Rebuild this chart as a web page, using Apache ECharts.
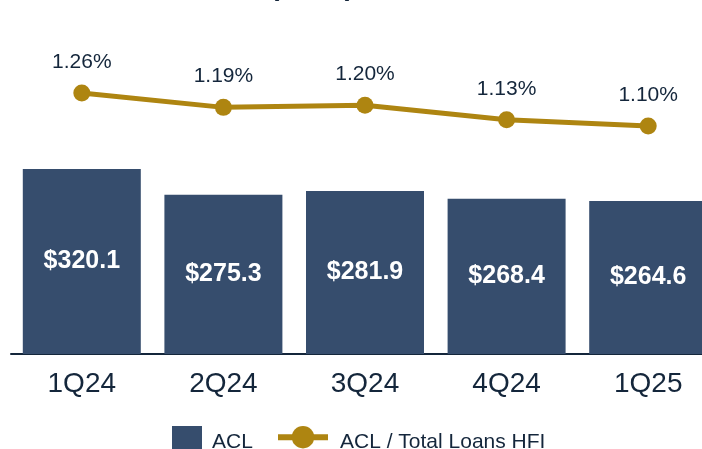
<!DOCTYPE html>
<html>
<head>
<meta charset="utf-8">
<script src="https://cdn.jsdelivr.net/npm/echarts@6/dist/echarts.min.js"></script>
<style>
html,body{margin:0;padding:0;background:#fff;overflow:hidden;width:702px;height:449px;}
#chart{width:719px;height:449px;}
</style>
</head>
<body>
<div id="chart"></div>
<script>
var categories = ['1Q24', '2Q24', '3Q24', '4Q24', '1Q25'];
var aclValues = [320.1, 275.3, 281.9, 268.4, 264.6];
var ratioValues = [1.26, 1.19, 1.20, 1.13, 1.10];
var seriesNames = ['ACL', 'ACL / Total Loans HFI'];
var titleText = '($mm)';

var navy = '#364d6d';
var gold = '#ae8511';
var ink = '#14263b';
var font = 'Arial, "Liberation Sans", sans-serif';

var chart = echarts.init(document.getElementById('chart'), null, {renderer: 'canvas'});
chart.setOption({
  animation: false,
  backgroundColor: '#ffffff',
  graphic: [{
    type: 'text',
    left: 270,
    top: -27,
    style: {text: titleText, font: 'bold 28px ' + font, fill: ink}
  }],
  grid: {left: 11, right: 0, top: 40, bottom: 95, containLabel: false},
  legend: [{
    data: [seriesNames[0]],
    left: 172, top: 426,
    itemWidth: 30, itemHeight: 26,
    icon: 'rect',
    formatter: '{t|{name}}',
    textStyle: {fontFamily: font, fontSize: 21, color: ink,
      rich: {t: {fontFamily: font, fontSize: 21, color: ink, padding: [6, 0, 0, 5]}}},
    padding: 0
  }, {
    data: [seriesNames[1]],
    left: 275, top: 426,
    itemWidth: 50, itemHeight: 28,
    lineStyle: {width: 6},
    formatter: '{t|{name}}',
    textStyle: {fontFamily: font, fontSize: 21, color: ink,
      rich: {t: {fontFamily: font, fontSize: 21, color: ink, padding: [10, 0, 0, 7]}}},
    padding: 0
  }],
  xAxis: {
    type: 'category',
    data: categories,
    axisLine: {lineStyle: {color: ink, width: 2}},
    axisTick: {show: false},
    axisLabel: {fontFamily: font, fontSize: 28, color: ink, margin: 16}
  },
  yAxis: [
    {type: 'value', min: 0, max: 543, show: false, splitLine: {show: false}},
    {type: 'value', min: -0.007, max: 1.517, show: false, splitLine: {show: false}}
  ],
  series: [{
    name: seriesNames[0],
    type: 'bar',
    data: aclValues,
    barWidth: 118,
    itemStyle: {color: navy},
    label: {
      show: true, position: 'inside',
      formatter: function (p) { return '$' + p.value.toFixed(1); },
      fontFamily: font, fontSize: 25, fontWeight: 'bold', color: '#ffffff'
    }
  }, {
    name: seriesNames[1],
    type: 'line',
    yAxisIndex: 1,
    data: ratioValues,
    symbol: 'circle',
    symbolSize: 17,
    lineStyle: {color: gold, width: 5},
    itemStyle: {color: gold},
    label: {
      show: true, position: 'top', distance: 12,
      formatter: function (p) { return p.value.toFixed(2) + '%'; },
      fontFamily: font, fontSize: 21, color: ink
    }
  }]
});
</script>
</body>
</html>
